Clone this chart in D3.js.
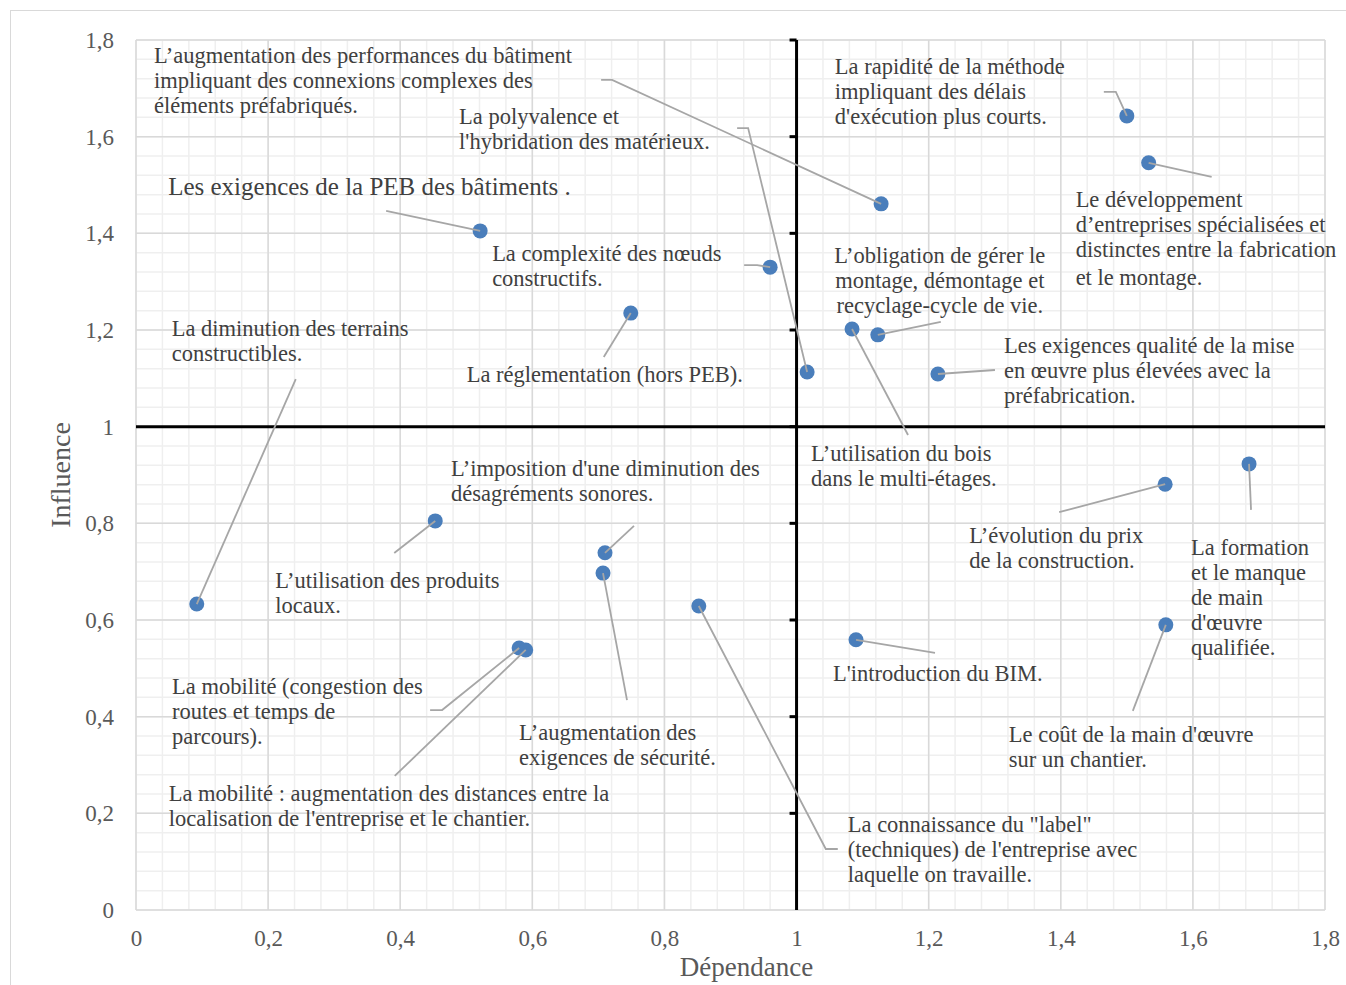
<!DOCTYPE html>
<html><head><meta charset="utf-8">
<script src="https://cdn.jsdelivr.net/npm/d3@7"></script>
<style>body{margin:0;background:#fff}svg{display:block}</style>
</head><body>
<script>
// ---------- data ----------
const labels = [
  "L’augmentation des performances du bâtiment\nimpliquant des connexions complexes des\néléments préfabriqués.",
  "La polyvalence et\nl'hybridation des matérieux.",
  "La rapidité de la méthode\nimpliquant des délais\nd'exécution plus courts.",
  "Le développement\nd’entreprises spécialisées et\ndistinctes entre la fabrication\net le montage.",
  "Les exigences de la PEB des bâtiments .",
  "La complexité des nœuds\nconstructifs.",
  "L’obligation de gérer le\nmontage, démontage et\nrecyclage-cycle de vie.",
  "L’utilisation du bois\ndans le multi-étages.",
  "Les exigences qualité de la mise\nen œuvre plus élevées avec la\npréfabrication.",
  "La réglementation (hors PEB).",
  "La diminution des terrains\nconstructibles.",
  "L’utilisation des produits\nlocaux.",
  "L’imposition d'une diminution des\ndésagréments sonores.",
  "L’augmentation des\nexigences de sécurité.",
  "La mobilité (congestion des\nroutes et temps de\nparcours).",
  "La mobilité : augmentation des distances entre la\nlocalisation de l'entreprise et le chantier.",
  "La connaissance du \"label\"\n(techniques) de l'entreprise avec\nlaquelle on travaille.",
  "L'introduction du BIM.",
  "L’évolution du prix\nde la construction.",
  "La formation\net le manque\nde main\nd'œuvre\nqualifiée.",
  "Le coût de la main d'œuvre\nsur un chantier."
];
const dependance = [1.128, 1.016, 1.500, 1.533, 0.521, 0.960, 1.123, 1.084, 1.214, 0.749, 0.092, 0.453, 0.710, 0.707, 0.580, 0.590, 0.852, 1.090, 1.558, 1.685, 1.559];
const influence  = [1.461, 1.113, 1.643, 1.546, 1.405, 1.330, 1.190, 1.202, 1.109, 1.235, 0.633, 0.805, 0.739, 0.697, 0.542, 0.538, 0.629, 0.559, 0.881, 0.923, 0.590];
const xTicks = [0, 0.2, 0.4, 0.6, 0.8, 1, 1.2, 1.4, 1.6, 1.8];
const yTicks = [0, 0.2, 0.4, 0.6, 0.8, 1, 1.2, 1.4, 1.6, 1.8];
const xTitle = "Dépendance";
const yTitle = "Influence";

// ---------- layout (label offsets relative to the point, in px) ----------
const labelLayout = [
  {dx:-727, dy:-148, lead:[[-269,-124],[-280,-124]]},
  {dx:-348, dy:-256, lead:[[-59,-244],[-70,-244]]},
  {dx:-292, dy:-49,  lead:[[-11,-24],[-23,-24]]},
  {dx:-73,  dy:37,   lead:[[63,14]], gap:[0,0,0,3]},
  {dx:-312, dy:-43,  lead:[[-94,-20]], big:true},
  {dx:-278, dy:-14,  lead:[[-13,-2],[-26,-2]]},
  {dx:62,   dy:-79,  lead:[[63,-13]], center:true},
  {dx:-41,  dy:124,  lead:[[56,106]]},
  {dx:66,   dy:-28,  lead:[[57,-4]]},
  {dx:-164, dy:61,   lead:[[-27,44]]},
  {dx:-25,  dy:-276, lead:[[99,-225]]},
  {dx:-160, dy:60,   lead:[[-41,32]]},
  {dx:-154, dy:-84,  lead:[[29,-27]]},
  {dx:-84,  dy:159,  lead:[[24,127]]},
  {dx:-347, dy:38,   lead:[[-77,62],[-89,62]]},
  {dx:-357, dy:144,  lead:[[-131,126]]},
  {dx:149,  dy:219,  lead:[[127,243],[139,243]]},
  {dx:-23,  dy:34,   lead:[[79,13]]},
  {dx:-196, dy:51,   lead:[[-106,28]]},
  {dx:-58,  dy:84,   lead:[[2,46]]},
  {dx:-157, dy:110,  lead:[[-33,86]]}
];

const W = 1346, H = 985;
const margin = {left:136, right:1346-1325, top:40, bottom:985-910};
const FONT = "'Liberation Serif', 'DejaVu Serif', serif";

const svg = d3.select("body").append("svg").attr("width", W).attr("height", H);

// outer frame
svg.append("rect").attr("x",10.5).attr("y",10.5).attr("width",1345).attr("height",985)
  .attr("fill","none").attr("stroke","#d9d9d9").attr("stroke-width",1);

const x = d3.scaleLinear().domain([0,1.8]).range([margin.left, W-margin.right]);
const y = d3.scaleLinear().domain([0,1.8]).range([H-margin.bottom, margin.top]);

// minor grid
const minor = d3.range(0, 1.8001, 0.04);
const g = svg.append("g");
g.selectAll(".mx").data(minor).join("line")
  .attr("x1", d=>x(d)).attr("x2", d=>x(d)).attr("y1", y(0)).attr("y2", y(1.8))
  .attr("stroke","#efefef").attr("stroke-width",1.5);
g.selectAll(".my").data(minor).join("line")
  .attr("y1", d=>y(d)).attr("y2", d=>y(d)).attr("x1", x(0)).attr("x2", x(1.8))
  .attr("stroke","#efefef").attr("stroke-width",1.5);
// major grid
g.selectAll(".Mx").data(xTicks).join("line")
  .attr("x1", d=>x(d)).attr("x2", d=>x(d)).attr("y1", y(0)).attr("y2", y(1.8))
  .attr("stroke","#d9d9d9").attr("stroke-width",1.5);
g.selectAll(".My").data(yTicks).join("line")
  .attr("y1", d=>y(d)).attr("y2", d=>y(d)).attr("x1", x(0)).attr("x2", x(1.8))
  .attr("stroke","#d9d9d9").attr("stroke-width",1.5);

const fmt = d => String(d).replace(".", ",");

// tick labels (axes drawn without lines)
const xAxis = svg.append("g").attr("transform",`translate(0,${y(0)})`)
  .call(d3.axisBottom(x).tickValues(xTicks).tickFormat(fmt).tickSize(0).tickPadding(20));
const yAxis = svg.append("g").attr("transform",`translate(${x(0)},0)`)
  .call(d3.axisLeft(y).tickValues(yTicks).tickFormat(fmt).tickSize(0).tickPadding(22));
[xAxis, yAxis].forEach(a => {
  a.select(".domain").remove();
  a.selectAll("text").attr("font-family", FONT).attr("font-size", 23).attr("fill","#595959");
});

// central axes (through 1,1)
svg.append("line").attr("x1", x(0)).attr("x2", x(1.8)).attr("y1", y(1)).attr("y2", y(1))
  .attr("stroke","#000").attr("stroke-width",3);
svg.append("line").attr("x1", x(1)).attr("x2", x(1)).attr("y1", y(0)).attr("y2", y(1.8))
  .attr("stroke","#000").attr("stroke-width",3);
svg.selectAll(".vt").data(yTicks.filter(d=>d>0)).join("line")
  .attr("x1", x(1)-7).attr("x2", x(1)).attr("y1", d=>y(d)).attr("y2", d=>y(d))
  .attr("stroke","#000").attr("stroke-width",3);

// axis titles
svg.append("text").attr("x", (x(0)+x(1.8))/2 + 16).attr("y", 976).attr("text-anchor","middle")
  .attr("font-family", FONT).attr("font-size", 27).attr("fill","#595959").text(xTitle);
svg.append("text").attr("transform",`translate(70,${(y(0)+y(1.8))/2})rotate(-90)`).attr("text-anchor","middle")
  .attr("font-family", FONT).attr("font-size", 28).attr("fill","#595959").text(yTitle);

// points
const pts = dependance.map((d,i)=>({x:d, y:influence[i], label:labels[i], lay:labelLayout[i]}));
svg.append("g").selectAll("circle").data(pts).join("circle")
  .attr("cx", d=>x(d.x)).attr("cy", d=>y(d.y)).attr("r", 7.5).attr("fill","#4a7ebb");

// leader lines
svg.append("g").selectAll("polyline").data(pts).join("polyline")
  .attr("points", d => {
    const px = x(d.x), py = y(d.y);
    return [[px,py]].concat(d.lay.lead.map(p=>[px+p[0], py+p[1]])).map(p=>p.join(",")).join(" ");
  })
  .attr("fill","none").attr("stroke","#a6a6a6").attr("stroke-width",1.8);

// labels
const lg = svg.append("g");
pts.forEach(d => {
  const px = x(d.x), py = y(d.y);
  const t = lg.append("text")
    .attr("font-family", FONT).attr("font-size", d.lay.big ? 25 : 22.5).attr("fill","#404040")
    .attr("text-anchor", d.lay.center ? "middle" : "start");
  d.label.split("\n").forEach((line,k) => {
    const extra = d.lay.gap ? d.lay.gap[k] : 0;
    t.append("tspan").attr("x", px + d.lay.dx).attr("y", py + d.lay.dy + k*25 + 7.5 + extra).text(line);
  });
});
</script>
</body></html>
